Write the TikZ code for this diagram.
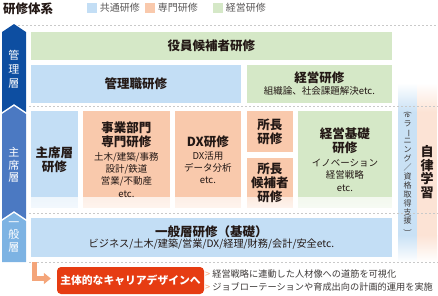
\documentclass[tikz,border=0pt]{standalone}
\usepackage{fontspec}
\setmainfont{Noto Sans CJK JP}
\usetikzlibrary{positioning,arrows.meta}
\definecolor{ink}{HTML}{231815}
\definecolor{subink}{HTML}{3E3A39}
\definecolor{legend}{HTML}{595757}
\definecolor{rule}{HTML}{C9C9C9}
\definecolor{cblue}{HTML}{C3DEF5}
\definecolor{corange}{HTML}{F9C9AC}
\definecolor{cgreen}{HTML}{D5E8C7}
\definecolor{tierA}{HTML}{0D4EA1}
\definecolor{tierB}{HTML}{4B79C2}
\definecolor{tierC}{HTML}{7DB3E3}
\definecolor{rblue}{HTML}{C9E1F5}
\definecolor{rorange}{HTML}{FCE3D5}
\definecolor{lorange}{HTML}{F4A57A}
\definecolor{cred}{HTML}{E63C12}
\newcommand\boxhead{\fontsize{12.5}{14}\selectfont\bfseries}
\newcommand\sidech[1]{\rotatebox[origin=c]{-90}{#1}}
\tikzset{
  crs/.style={anchor=north west, draw=white, line width=0.8pt, inner sep=0pt,
              align=center, text=ink, font=\fontsize{9.5}{12}\selectfont},
  common/.style={crs, fill=cblue},
  special/.style={crs, fill=corange},
  mgmt/.style={crs, fill=cgreen},
  fadefoot/.style={path picture={\fill[top color=#1, bottom color=#1!20!white]
      (path picture bounding box.south west) rectangle
      ([yshift=11pt]path picture bounding box.south east);}},
  tier/.style={font=\fontsize{11}{12.5}\selectfont, text=white, align=center, inner sep=0pt},
  legsq/.style={minimum size=10pt, inner sep=0pt},
  legtx/.style={font=\fontsize{10}{12}\selectfont, text=legend, inner sep=0pt},
  guide/.style={draw=rule, line width=0.8pt, dash pattern=on 2pt off 2pt},
  larr/.style={-{Triangle[width=11pt,length=7pt]}, line width=5pt, draw=lorange},
  point/.style={font=\fontsize{9.2}{12}\selectfont, text=subink, anchor=west, inner sep=0pt},
}
\begin{document}
\begin{tikzpicture}[x=1pt,y=-1pt]
\useasboundingbox (0,0) rectangle (438,295);

% --- title and legend ---
\node[anchor=west, inner sep=0pt, text=ink, font=\fontsize{12.5}{14}\selectfont\bfseries] (title) at (3,9) {研修体系};
\node[legsq, fill=cblue] (sqa) at (92,8) {};
\node[legtx, right=2.5pt of sqa] (lga) {共通研修};
\node[legsq, fill=corange] (sqb) at (150,8) {};
\node[legtx, right=2.5pt of sqb] (lgb) {専門研修};
\node[legsq, fill=cgreen] (sqc) at (218,8) {};
\node[legtx, right=2.5pt of sqc] (lgc) {経営研修};

% --- tiers ---
\fill[tierA] (2,32) -- (14,24) -- (26,32) -- (26,112) -- (14,104) -- (2,112) -- cycle;
\fill[tierB] (2,114) -- (14,106) -- (26,114) -- (26,219) -- (14,211) -- (2,219) -- cycle;
\fill[tierC] (2,221) -- (14,213) -- (26,221) -- (26,262) -- (2,262) -- cycle;
\node[tier, font=\fontsize{11}{14}\selectfont] (tkanri) at (14,69) {管\\理\\層};
\node[tier] (tshuseki) at (14,165) {主\\席\\層};
\node[tier] (tippan) at (14,237) {一\\般\\層};

% --- self study ---
\fill[top color=white, bottom color=rblue] (398,83) rectangle (417,112);
\fill[rblue] (398,112) rectangle (417,235);
\fill[top color=rblue, bottom color=white] (398,235) rectangle (417,262);
\fill[top color=white, bottom color=rorange] (417,83) rectangle (437,112);
\fill[rorange] (417,112) rectangle (437,235);
\fill[top color=rorange, bottom color=white] (417,235) rectangle (437,262);
\node[inner sep=0pt, align=center, text=subink, font=\fontsize{8}{8.9}\selectfont] (elearn) at (407.5,172)
  {\sidech{(e}\\ラ\\\sidech{ー}\\ニ\\ン\\グ\\／\\資\\格\\取\\得\\支\\援\\\sidech{)}};
\node[inner sep=0pt, align=center, text=ink, font=\fontsize{13}{13.5}\selectfont\bfseries] (jiritsu) at (427,172)
  {自\\律\\学\\習};

% --- guides ---
\draw[guide] (18,25) -- (438,25);
\draw[guide] (29,106) -- (438,106);
\draw[guide] (29,213) -- (438,213);
\draw[guide] (29,262) -- (438,262);

% --- management ---
\node[mgmt, minimum width=362pt, minimum height=29pt] (yakuin) at (30,31) {\boxhead 役員候補者研修};
\node[common, minimum width=211pt, minimum height=39pt] (kanri) at (30,64) {\boxhead 管理職研修};
\node[mgmt, minimum width=146pt, minimum height=39pt] (keiei) at (246,64)
  {\boxhead 経営研修\\[0pt]組織論、社会課題解決etc.};

% --- senior ---
\node[common, fadefoot=cblue, minimum width=48pt, minimum height=98pt] (shuseki) at (30,110)
  {\boxhead 主席層\\[2pt]\boxhead 研修};
\node[special, fadefoot=corange, minimum width=88pt, minimum height=98pt] (jigyo) at (82,110)
  {\boxhead 事業部門\\[2pt]\boxhead 専門研修\\[2pt]土木/建築/事務\\設計/鉄道\\営業/不動産\\[1pt]etc.};
\node[special, fadefoot=corange, minimum width=67pt, minimum height=98pt] (dx) at (174,110)
  {\boxhead DX研修\\[1pt]DX活用\\データ分析\\etc.};
\node[special, minimum width=47pt, minimum height=42pt] (shocho) at (246,110)
  {\boxhead 所長\\[2pt]\boxhead 研修};
\node[special, fadefoot=corange, minimum width=47pt, minimum height=51pt] (kouho) at (246,157)
  {\boxhead 所長\\[2pt]\boxhead 候補者\\[2pt]\boxhead 研修};
\node[mgmt, fadefoot=cgreen, minimum width=95pt, minimum height=98pt] (kiso) at (297,110)
  {\boxhead 経営基礎\\[2pt]\boxhead 研修\\[2pt]イノベーション\\経営戦略\\[1pt]etc.};

% --- general ---
\node[common, minimum width=362pt, minimum height=40pt] (ippan) at (30,217)
  {\boxhead 一般層研修（基礎）\\[-0.5pt]\fontsize{10.2}{12}\selectfont ビジネス/土木/建築/営業/DX/経理/財務/会計/安全etc.};

% --- career ---
\node[fill=cred, rounded corners=4pt, minimum width=147pt, minimum height=27pt, inner sep=0pt,
      text=white, font=\fontsize{10.8}{12}\selectfont\bfseries] (career) at (130.5,280.5) {主体的なキャリアデザインへ};
\coordinate (turn) at (34.5,262);
\draw[larr, shorten >=6pt] (turn) |- ([yshift=2pt]career.west);
\node[point] (ptone) at (205,274) {\textcolor{lorange}{>}\hspace{2pt}経営戦略に連動した人材像への道筋を可視化};
\node[point] (pttwo) at (205,287) {\textcolor{lorange}{>}\hspace{2pt}ジョブローテーションや育成出向の計画的運用を実施};

\end{tikzpicture}
\end{document}
